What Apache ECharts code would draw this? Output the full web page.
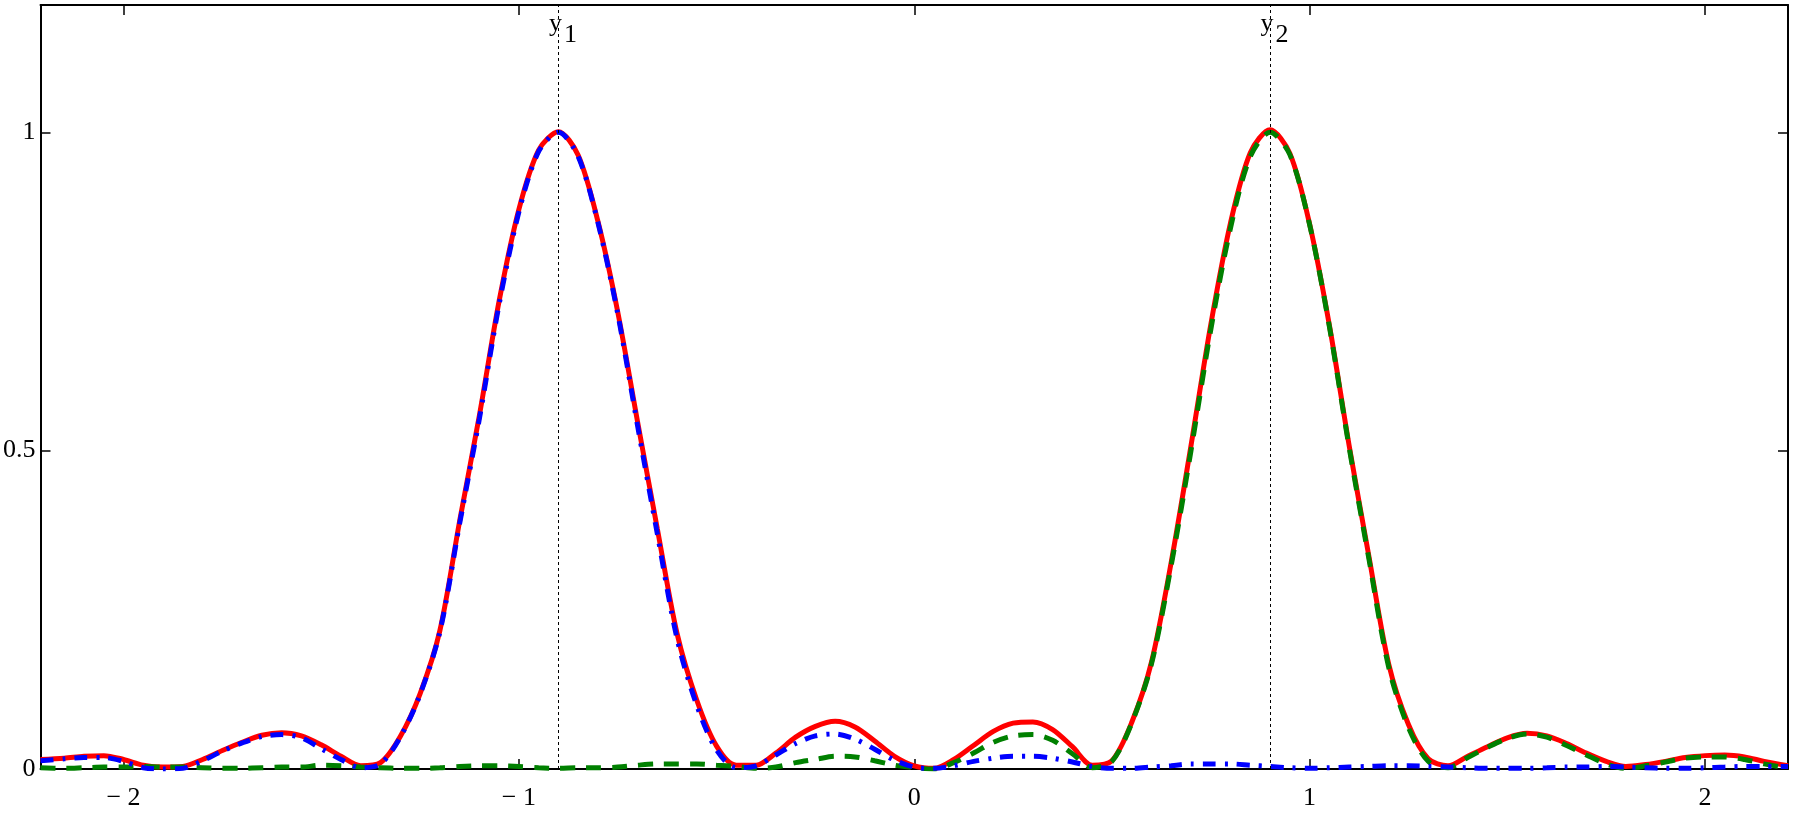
<!DOCTYPE html>
<html>
<head>
<meta charset="utf-8">
<title>y1 y2</title>
<script src="https://cdn.jsdelivr.net/npm/echarts@6/dist/echarts.min.js"></script>
<style>
    html, body { margin: 0; padding: 0; background: #fff; }
    #chart { width: 1796px; height: 814px; }
</style>
</head>
<body>
<div id="chart"></div>
<script>
// x positions of the samples
var xValues = [
    -2.21, -2.15, -2.10, -2.05, -2.00, -1.95, -1.90, -1.85, -1.80, -1.75,
    -1.70, -1.65, -1.60, -1.55, -1.50, -1.45, -1.40, -1.35, -1.30, -1.25,
    -1.20, -1.15, -1.10, -1.05, -1.00, -0.95, -0.90, -0.85, -0.80, -0.75,
    -0.70, -0.65, -0.60, -0.55, -0.50, -0.45, -0.40, -0.35, -0.30, -0.25,
    -0.20, -0.15, -0.10, -0.05, 0.00, 0.05, 0.10, 0.15, 0.20, 0.25,
    0.30, 0.35, 0.40, 0.45, 0.50, 0.55, 0.60, 0.65, 0.70, 0.75,
    0.80, 0.85, 0.90, 0.95, 1.00, 1.05, 1.10, 1.15, 1.20, 1.25,
    1.30, 1.35, 1.40, 1.45, 1.50, 1.55, 1.60, 1.65, 1.70, 1.75,
    1.80, 1.85, 1.90, 1.95, 2.00, 2.05, 2.10, 2.15, 2.21
];
// y1 (blue, dash-dot)
var y1Values = [
    0.013, 0.016, 0.018, 0.018, 0.012, 0.002, 0.000, 0.001, 0.013, 0.028,
    0.041, 0.051, 0.054, 0.049, 0.032, 0.015, 0.002, 0.008, 0.050, 0.117,
    0.215, 0.385, 0.550, 0.730, 0.875, 0.970, 1.000, 0.962, 0.858, 0.715,
    0.540, 0.370, 0.205, 0.100, 0.030, 0.002, 0.005, 0.022, 0.040, 0.052,
    0.055, 0.047, 0.031, 0.014, 0.003, 0.001, 0.005, 0.012, 0.017, 0.020,
    0.020, 0.017, 0.011, 0.004, 0.001, 0.001, 0.003, 0.005, 0.008, 0.008,
    0.008, 0.006, 0.004, 0.002, 0.001, 0.002, 0.003, 0.004, 0.005, 0.005,
    0.004, 0.003, 0.002, 0.001, 0.001, 0.001, 0.002, 0.003, 0.003, 0.004,
    0.003, 0.002, 0.001, 0.001, 0.002, 0.003, 0.004, 0.004, 0.004
];
// y2 (green, dashed)
var y2Values = [
    0.002, 0.001, 0.002, 0.003, 0.003, 0.004, 0.003, 0.003, 0.002, 0.001,
    0.001, 0.002, 0.003, 0.003, 0.006, 0.005, 0.003, 0.002, 0.001, 0.001,
    0.002, 0.004, 0.005, 0.005, 0.004, 0.002, 0.001, 0.002, 0.002, 0.003,
    0.006, 0.008, 0.008, 0.008, 0.006, 0.004, 0.001, 0.003, 0.010, 0.015,
    0.020, 0.019, 0.013, 0.006, 0.002, 0.000, 0.010, 0.025, 0.042, 0.052,
    0.054, 0.045, 0.024, 0.002, 0.012, 0.072, 0.165, 0.320, 0.500, 0.690,
    0.850, 0.962, 1.000, 0.965, 0.855, 0.695, 0.505, 0.330, 0.160, 0.065,
    0.012, 0.002, 0.018, 0.034, 0.048, 0.055, 0.050, 0.037, 0.022, 0.008,
    0.001, 0.005, 0.011, 0.017, 0.019, 0.019, 0.015, 0.008, 0.001
];
// y1 + y2 (red, solid)
var sumValues = [
    0.015, 0.017, 0.020, 0.021, 0.015, 0.006, 0.003, 0.004, 0.015, 0.029,
    0.042, 0.053, 0.057, 0.052, 0.038, 0.020, 0.005, 0.010, 0.051, 0.118,
    0.217, 0.389, 0.555, 0.735, 0.879, 0.972, 1.001, 0.964, 0.860, 0.718,
    0.546, 0.378, 0.213, 0.108, 0.036, 0.006, 0.006, 0.025, 0.050, 0.067,
    0.075, 0.066, 0.044, 0.020, 0.005, 0.001, 0.015, 0.037, 0.059, 0.072,
    0.074, 0.062, 0.035, 0.006, 0.013, 0.073, 0.168, 0.325, 0.508, 0.698,
    0.858, 0.968, 1.004, 0.967, 0.856, 0.697, 0.508, 0.334, 0.165, 0.070,
    0.016, 0.005, 0.020, 0.035, 0.049, 0.056, 0.052, 0.040, 0.025, 0.012,
    0.004, 0.007, 0.012, 0.018, 0.021, 0.022, 0.019, 0.012, 0.005
];
// marker positions and tick values
var markerX = [-0.9, 0.9];
var markerNames = ["1", "2"];
var xTicks = [-2, -1, 0, 1, 2];
var yTicks = [0, 0.5, 1];

(function () {
    var myChart = echarts.init(document.getElementById("chart"));

    function pairs(ys) {
        return xValues.map(function (x, i) {
            return [x, ys[i]];
        });
    }

    var serif = "'Liberation Serif', 'Times New Roman', serif";
    var axisLineStyle = { color: "#000", width: 2 };

    // y + subscript labels at the top of the dotted lines
    var markerLabels = [];
    markerX.forEach(function (x, i) {
        markerLabels.push({
            coord: [x, 1.2],
            label: { formatter: "y", offset: [-3, 19] },
        });
        markerLabels.push({
            coord: [x, 1.2],
            label: { formatter: markerNames[i], offset: [12, 30] },
        });
    });

    var option = {
        animation: false,
        grid: {
            left: 39,
            right: 8,
            top: 5,
            bottom: 45,
            containLabel: false,
        },
        xAxis: [
            {
                type: "value",
                position: "bottom",
                min: -2.21,
                max: 2.21,
                axisLine: { show: true, onZero: false, lineStyle: axisLineStyle },
                axisTick: {
                    show: true,
                    inside: true,
                    length: 10,
                    customValues: xTicks,
                    lineStyle: { color: "#000", width: 1.5 },
                },
                axisLabel: {
                    customValues: xTicks,
                    margin: 16,
                    color: "#000",
                    fontFamily: serif,
                    fontSize: 26,
                    formatter: function (v) {
                        return v < 0 ? "\u2212 " + Math.abs(v) : String(v);
                    },
                },
                splitLine: { show: false },
            },
            {
                type: "value",
                position: "top",
                min: -2.21,
                max: 2.21,
                axisLine: { show: true, onZero: false, lineStyle: axisLineStyle },
                axisTick: {
                    show: true,
                    inside: true,
                    length: 10,
                    customValues: xTicks,
                    lineStyle: { color: "#000", width: 1.5 },
                },
                axisLabel: { show: false },
                splitLine: { show: false },
            },
        ],
        yAxis: [
            {
                type: "value",
                position: "left",
                min: 0,
                max: 1.2,
                axisLine: { show: true, onZero: false, lineStyle: axisLineStyle },
                axisTick: {
                    show: true,
                    inside: true,
                    length: 10,
                    customValues: yTicks,
                    lineStyle: { color: "#000", width: 1.5 },
                },
                axisLabel: {
                    customValues: yTicks,
                    margin: 5,
                    color: "#000",
                    fontFamily: serif,
                    fontSize: 26,
                },
                splitLine: { show: false },
            },
            {
                type: "value",
                position: "right",
                min: 0,
                max: 1.2,
                axisLine: { show: true, onZero: false, lineStyle: axisLineStyle },
                axisTick: {
                    show: true,
                    inside: true,
                    length: 10,
                    customValues: yTicks,
                    lineStyle: { color: "#000", width: 1.5 },
                },
                axisLabel: { show: false },
                splitLine: { show: false },
            },
        ],
        series: [
            {
                name: "y1+y2",
                type: "line",
                data: pairs(sumValues),
                showSymbol: false,
                smooth: 0.3,
                lineStyle: { color: "#ff0000", width: 5 },
                z: 2,
            },
            {
                name: "y2",
                type: "line",
                data: pairs(y2Values),
                showSymbol: false,
                smooth: 0.3,
                lineStyle: { color: "#008000", width: 5, type: [15, 11] },
                z: 3,
            },
            {
                name: "y1",
                type: "line",
                data: pairs(y1Values),
                showSymbol: false,
                smooth: 0.3,
                lineStyle: { color: "#0000ff", width: 5, type: [13, 9, 3, 9] },
                z: 4,
                // dotted verticals at the two peaks
                markLine: {
                    silent: true,
                    symbol: "none",
                    label: { show: false },
                    lineStyle: { color: "#000", width: 1, type: [3, 3] },
                    data: markerX.map(function (x) {
                        return { xAxis: x };
                    }),
                },
                markPoint: {
                    silent: true,
                    symbol: "circle",
                    symbolSize: 0,
                    label: {
                        show: true,
                        position: "inside",
                        color: "#000",
                        fontFamily: serif,
                        fontSize: 26,
                    },
                    data: markerLabels,
                },
            },
        ],
    };
    myChart.setOption(option);
})();
</script>
</body>
</html>
